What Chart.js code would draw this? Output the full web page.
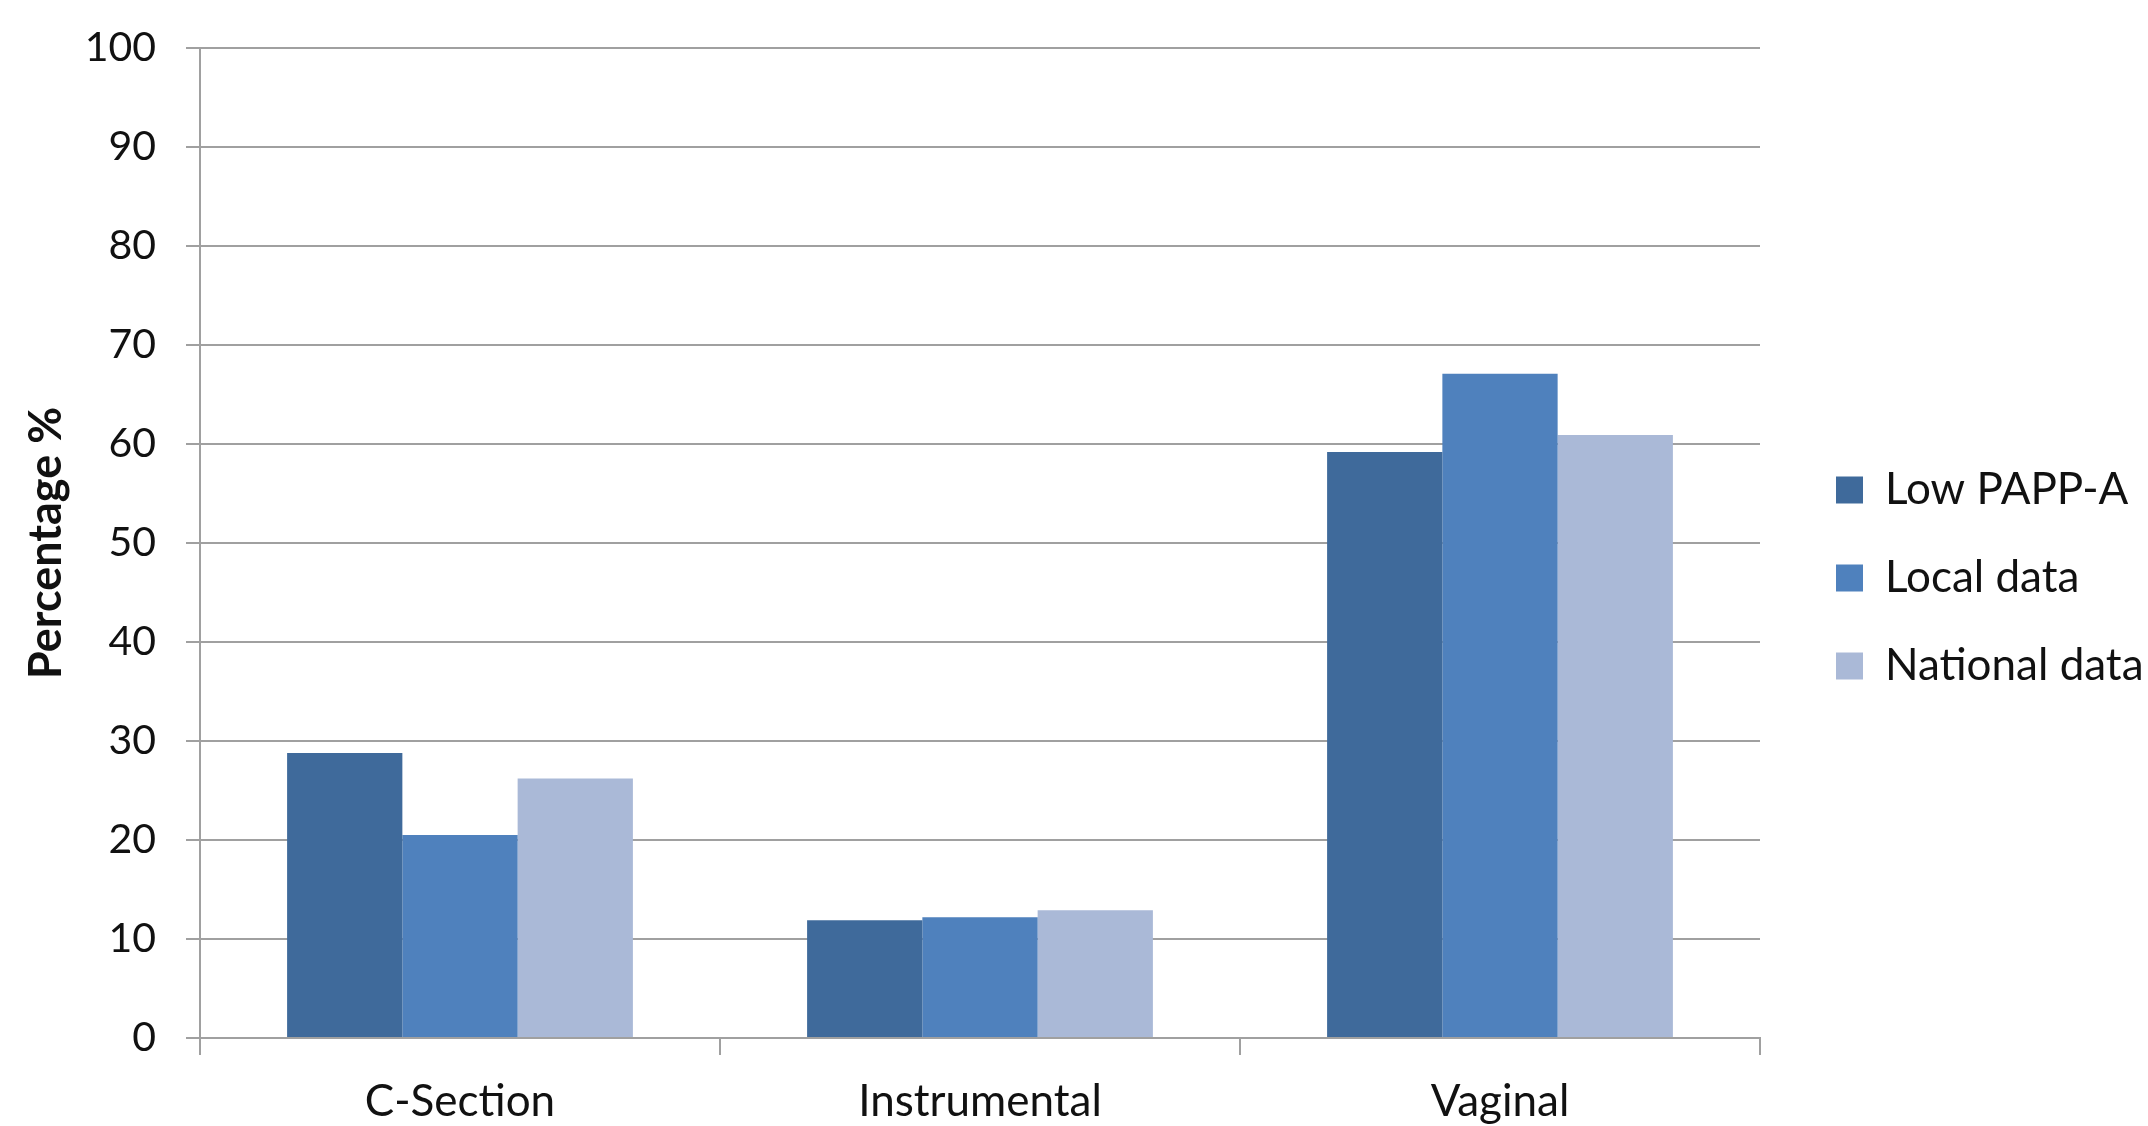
<!DOCTYPE html>
<html>
<head>
<meta charset="utf-8">
<script src="https://cdn.jsdelivr.net/npm/chart.js@4"></script>
<style>
  html, body { margin: 0; padding: 0; background: #fff; }
  #wrap { width: 2148px; height: 1126px; }
</style>
</head>
<body>
<div id="wrap"><canvas id="births"></canvas></div>
<script>
// categories and values
const categories = ['C-Section', 'Instrumental', 'Vaginal']
const lowPappA = [28.8, 11.9, 59.2]
const localData = [20.5, 12.2, 67.1]
const nationalData = [26.2, 12.9, 60.9]
const yTicks = [0, 10, 20, 30, 40, 50, 60, 70, 80, 90, 100]

const FONT = 'Lato, "Open Sans", sans-serif'

// legend sits a bit away from the plot, like the Excel original
const legendPlace = {
    id: 'legendPlace',
    beforeLayout(chart) {
        const lg = chart.legend
        if (lg && !lg._patched) {
            const fit = lg.fit
            lg.fit = function () {
                fit.call(this)
                this.width = 388
            }
            lg._patched = true
        }
    },
    afterLayout(chart) {
        const lg = chart.legend
        lg.left += 32
        lg.right += 32
        lg.top += 15
        lg.bottom += 15
    }
}

document.addEventListener('DOMContentLoaded', function () {
    const ctx = document.getElementById('births')

    new Chart(ctx, {
        type: 'bar',
        data: {
            labels: categories,
            datasets: [
                { label: 'Low PAPP-A', data: lowPappA, backgroundColor: '#3f6a9b' },
                { label: 'Local data', data: localData, backgroundColor: '#4f81bd' },
                { label: 'National data', data: nationalData, backgroundColor: '#aab9d7' }
            ]
        },
        plugins: [legendPlace],
        options: {
            responsive: true,
            maintainAspectRatio: false,
            animation: false,
            devicePixelRatio: 1,
            layout: { padding: { top: 0, right: 0, bottom: 0, left: 19 } },
            datasets: {
                bar: { categoryPercentage: 0.665, barPercentage: 1.0, borderWidth: 0 }
            },
            plugins: {
                tooltip: { enabled: false },
                legend: {
                    position: 'right',
                    align: 'center',
                    labels: {
                        boxWidth: 27,
                        boxHeight: 27,
                        padding: 44,
                        color: '#111',
                        font: { family: FONT, size: 44 }
                    }
                }
            },
            scales: {
                x: {
                    afterFit: function (axis) { axis.height = 88 },
                    grid: {
                        drawOnChartArea: false,
                        drawTicks: true,
                        tickLength: 17,
                        color: '#a0a0a0',
                        lineWidth: 2
                    },
                    border: { color: '#a0a0a0', width: 2 },
                    ticks: {
                        color: '#111',
                        padding: 20,
                        font: { family: FONT, size: 44 }
                    }
                },
                y: {
                    min: 0,
                    max: 100,
                    afterFit: function (axis) {
                        axis.width = 181
                        axis.paddingTop = 48
                        axis.paddingBottom = 20
                    },
                    afterBuildTicks: function (axis) {
                        axis.ticks = yTicks.map(v => ({ value: v }))
                    },
                    grid: {
                        color: '#a0a0a0',
                        lineWidth: 2,
                        tickLength: 14
                    },
                    border: { color: '#a0a0a0', width: 2 },
                    ticks: {
                        color: '#111',
                        padding: 30,
                        font: { family: FONT, size: 41 }
                    },
                    title: {
                        display: true,
                        text: 'Percentage %',
                        color: '#111',
                        padding: { top: 0, bottom: 0 },
                        font: { family: FONT, size: 45, weight: 'bold' }
                    }
                }
            }
        }
    })
})
</script>
</body>
</html>
